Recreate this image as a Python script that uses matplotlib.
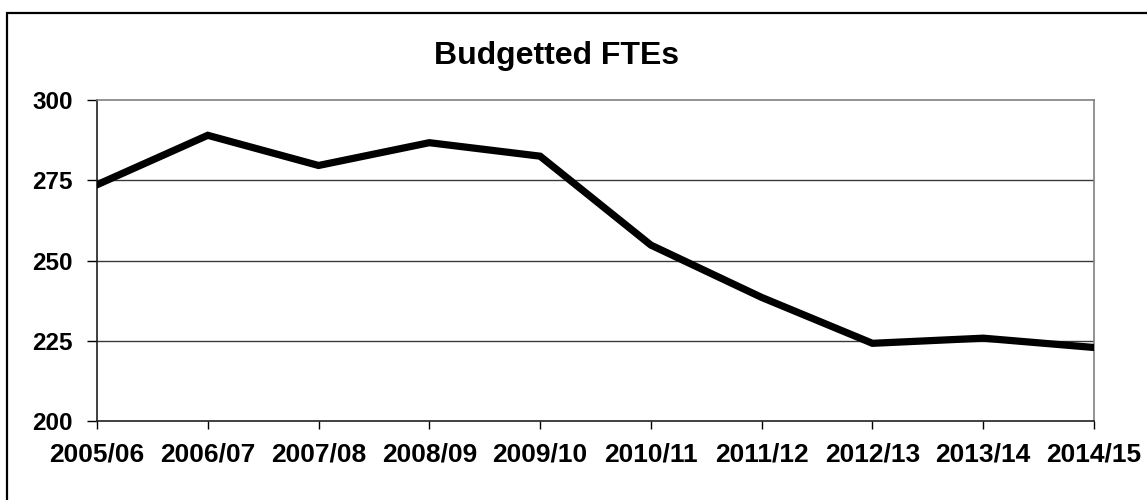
import matplotlib
matplotlib.use("Agg")
import matplotlib.pyplot as plt
from matplotlib.patches import Rectangle

categories = ["2005/06", "2006/07", "2007/08", "2008/09", "2009/10",
              "2010/11", "2011/12", "2012/13", "2013/14", "2014/15"]
ftes = [273.6, 289.0, 279.6, 286.7, 282.5, 254.8, 238.5, 224.2, 225.8, 222.9]
yticks = [200, 225, 250, 275, 300]
title = "Budgetted FTEs"

plt.rcParams['font.family'] = ['Liberation Sans', 'DejaVu Sans']
plt.rcParams['font.weight'] = 'bold'

fig = plt.figure(figsize=(11.47, 5.0), dpi=100)
fig.patch.set_facecolor('white')

# outer chart-area border
fig.patches.append(Rectangle((7/1147, -0.05), 1.2, 1 - 13/500 + 0.05,
                             transform=fig.transFigure, fill=False,
                             edgecolor='black', linewidth=1.6, zorder=0))

ax = fig.add_axes([97/1147, 1 - 421/500, (1094 - 97)/1147, (421 - 100)/500])
x = list(range(len(categories)))
ax.plot(x, ftes, color='black', linewidth=5.2, solid_joinstyle='miter', zorder=3)

ax.set_xlim(0, len(categories) - 1)
ax.set_ylim(200, 300)
ax.set_xticks(x)
ax.set_xticklabels(categories)
ax.set_yticks(yticks)
ax.set_yticklabels([str(v) for v in yticks])

for v in yticks[1:-1]:
    ax.axhline(v, color='#3a3a3a', linewidth=1.0, zorder=1)

ax.spines['top'].set_color('#808080')
ax.spines['right'].set_color('#808080')
ax.spines['left'].set_color('#202020')
ax.spines['bottom'].set_color('#202020')
for s in ax.spines.values():
    s.set_linewidth(1.2)

ax.tick_params(axis='y', direction='out', length=7, width=1, pad=10.5,
               labelsize=17.5, colors='black')
ax.tick_params(axis='x', direction='out', length=5.5, width=1, pad=10,
               labelsize=19, colors='black')
for lbl in ax.get_xticklabels() + ax.get_yticklabels():
    lbl.set_fontweight('bold')

fig.text(556.5/1147, 1 - 64/500, title, ha='center', va='baseline',
         fontsize=23, fontweight='bold')

fig.savefig("out.png", dpi=100)
